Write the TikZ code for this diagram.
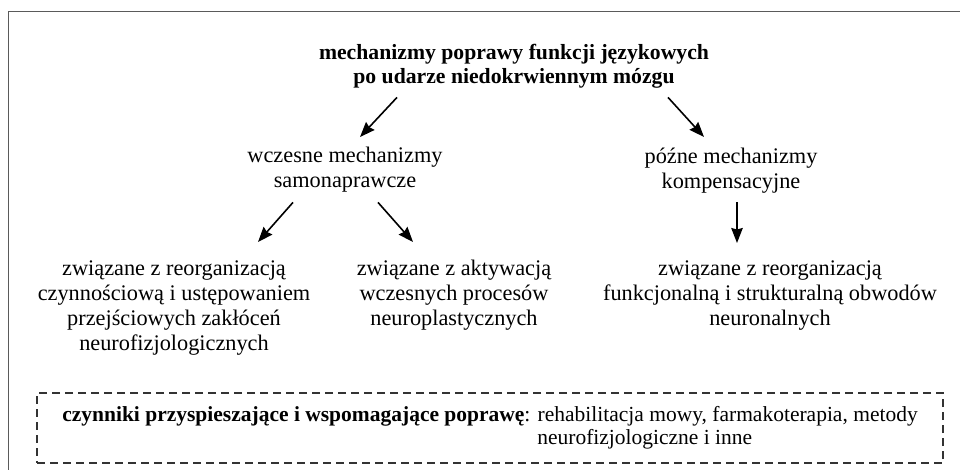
\documentclass[tikz,border=0pt]{standalone}
\usepackage{fontspec}
\setmainfont{Liberation Serif}
\usetikzlibrary{arrows.meta}
\definecolor{CFrame}{HTML}{5A5A5A}
\definecolor{CDash}{HTML}{333333}

\begin{document}
\begin{tikzpicture}[x=1pt, y=-1pt,
  lbl/.style={align=center, inner sep=0pt, anchor=north, font=\fontsize{22.3}{25}\selectfont},
  head/.style={align=center, inner sep=0pt, anchor=north, font=\fontsize{21.7}{24}\selectfont\bfseries},
  arr/.style={-{Stealth[length=15pt, width=11.5pt, inset=1.5pt]}, line width=1.6pt, black}]

  \clip (0,0) rectangle (960,470);

  % ============================================
  % Outer frame (open to the right and bottom)
  % ============================================
  \draw[CFrame, line width=1pt] (8.5,11.5) rectangle (990,500);

  % Title
  \node[head] (title) at (514,42.2) {\strut mechanizmy poprawy funkcji językowych\\ po udarze niedokrwiennym mózgu\strut};

  % ============================================
  % Level 1: early and late mechanisms
  % ============================================
  \node[lbl] (early) at (345,144.5) {\strut wczesne mechanizmy\\ samonaprawcze\strut};
  \node[lbl] (late) at (731,145.5) {\strut późne mechanizmy\\ kompensacyjne\strut};

  \draw[arr] ([shift={(-117,6.8)}]title.south) -- ([shift={(15,-7.5)}]early.north);
  \draw[arr] ([shift={(154,6.8)}]title.south) -- ([shift={(-27,-8.5)}]late.north);

  % ============================================
  % Level 2: what each mechanism is tied to
  % ============================================
  \node[lbl] (reorg) at (174,257.5) {\strut związane z reorganizacją\\ czynnościową i ustępowaniem\\ przejściowych zakłóceń\\ neurofizjologicznych\strut};
  \node[lbl] (activ) at (454,257.5) {\strut związane z aktywacją\\ wczesnych procesów\\ neuroplastycznych\strut};
  \node[lbl] (circuit) at (770,257.5) {\strut związane z reorganizacją\\ funkcjonalną i strukturalną obwodów\\ neuronalnych\strut};

  \draw[arr] ([shift={(-52,7.5)}]early.south) -- ([shift={(84,-15.5)}]reorg.north);
  \draw[arr] ([shift={(33,7.5)}]early.south) -- ([shift={(-41,-15.5)}]activ.north);
  \draw[arr] ([shift={(6,6.5)}]late.south) -- ([shift={(-33,-14.5)}]circuit.north);

  % Supporting factors (dashed box)
  \node[draw=CDash, line width=1.5pt, dash pattern=on 8pt off 5pt, minimum width=906pt, minimum height=70pt,
        inner sep=0pt, align=left, font=\fontsize{21.5}{23}\selectfont] (factors) at (490,428)
        {\strut\textbf{czynniki przyspieszające i wspomagające poprawę}: rehabilitacja mowy, farmakoterapia, metody\\ \hspace*{475pt}neurofizjologiczne i inne\strut};

\end{tikzpicture}
\end{document}
